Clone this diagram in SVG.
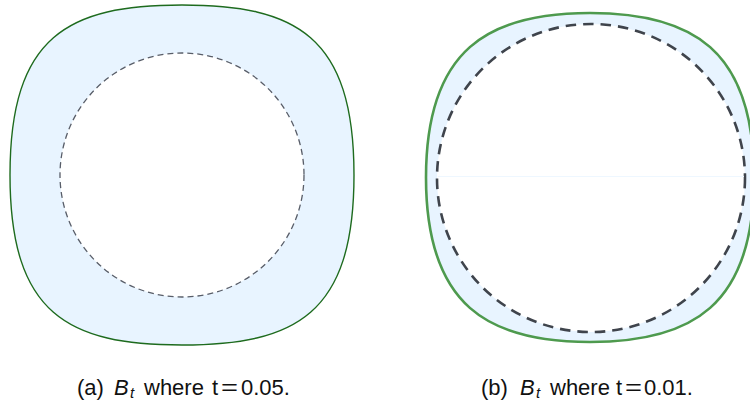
<svg xmlns="http://www.w3.org/2000/svg" width="750" height="410" viewBox="0 0 750 410">
<style>
.fill{fill:#e8f4ff}
.cap{font-family:"Liberation Sans",Arial,sans-serif;font-size:22px;fill:#111}
.it{font-style:italic}
.sub{font-style:italic;font-size:15px}
</style>
<rect width="750" height="410" fill="#fff"/>
<g id="panel-a">
<path class="fill" d="M182,5 C68.5,5 10,35.6 10,175 C10,314.4 68.5,345 182,345 C295.5,345 354,314.4 354,175 C354,35.6 295.5,5 182,5 Z" stroke="#1e6b1e" stroke-width="1.4"/>
<circle cx="182" cy="175" r="122" fill="#fff" stroke="#585d68" stroke-width="1.3" stroke-dasharray="6 4"/>
</g>
<g id="panel-b">
<path class="fill" d="M590,13 C488.3,13 426,49.2 426,177.5 C426,305.8 488.3,342 590,342 C691.7,342 754,305.8 754,177.5 C754,49.2 691.7,13 590,13 Z" stroke="#4e9a4e" stroke-width="2.6"/>
<circle cx="591" cy="178" r="154" fill="#fff" stroke="#3f444c" stroke-width="2.6" stroke-dasharray="10.5 7"/>
<line x1="438" y1="176.5" x2="744" y2="176.5" stroke="#eef7ff" stroke-width="1"/>
</g>
<g id="caption-a" class="cap">
<text x="77" y="395">(a)</text>
<text x="114" y="395" class="it">B</text>
<text x="130" y="398" class="sub">t</text>
<text x="144" y="395">where</text>
<text x="212" y="395">t</text>
<text x="221" y="395" textLength="17" lengthAdjust="spacingAndGlyphs">=</text>
<text x="241" y="395">0.05.</text>
</g>
<g id="caption-b" class="cap">
<text x="481" y="395">(b)</text>
<text x="520" y="395" class="it">B</text>
<text x="536" y="398" class="sub">t</text>
<text x="550" y="395">where</text>
<text x="616" y="395">t</text>
<text x="625" y="395" textLength="17" lengthAdjust="spacingAndGlyphs">=</text>
<text x="644" y="395">0.01.</text>
</g>
</svg>
